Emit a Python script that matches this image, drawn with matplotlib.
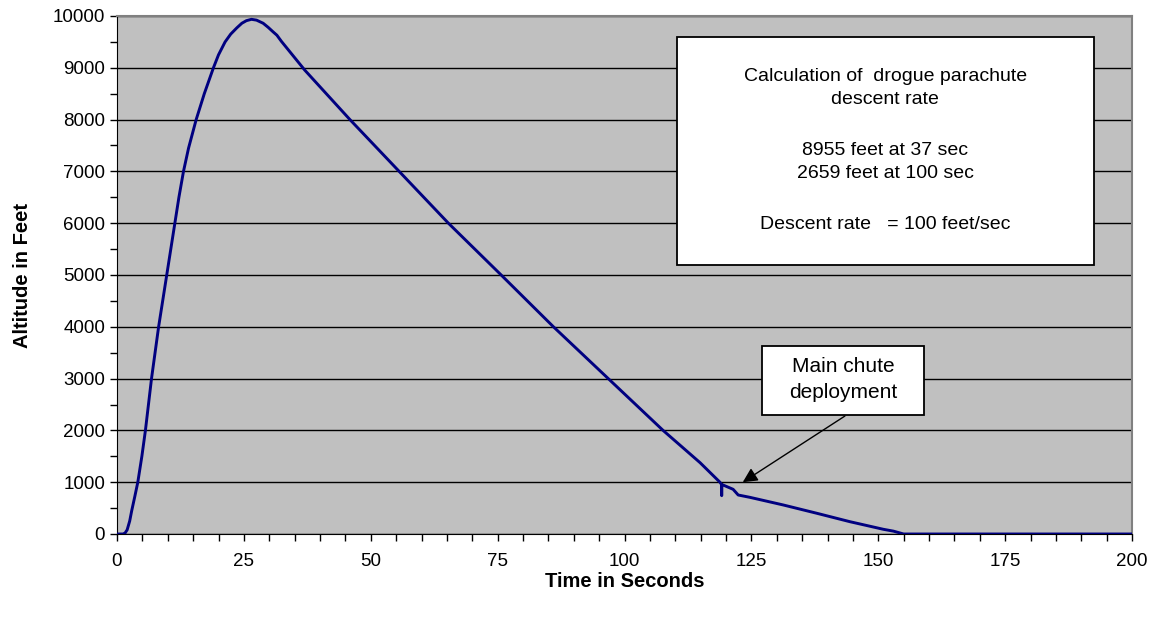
import matplotlib.pyplot as plt
from matplotlib.patches import Rectangle
from matplotlib.ticker import MultipleLocator

# flight data
time_s = [0, 1.2, 1.6, 2.0, 2.5, 2.9, 3.5, 4.1, 4.9, 5.6, 6.2, 6.8, 7.5, 8.2, 9.0,
          9.8, 10.6, 11.4, 12.2, 13.1, 14.1, 15.6, 17.2, 19.0, 20.0, 21.3, 22.4,
          23.6, 24.6, 25.5, 26.5, 27.5, 28.8, 29.8, 30.8, 31.5, 32.4, 37.0,
          45.9, 55.6, 65.3, 75.7, 86.0, 96.8, 107.6, 114.9,
          118.8, 119.1, 119.15, 119.2, 121.4, 122.4, 124.7, 131.3, 137.9, 144.4,
          151.0, 153.0, 155.0, 200.0]
altitude_ft = [0, 0, 20, 80, 250, 450, 720, 1000, 1500, 2000, 2500, 3000, 3500,
               4000, 4500, 5000, 5500, 6000, 6500, 7000, 7450, 8000, 8500, 9000,
               9250, 9500, 9650, 9770, 9860, 9910, 9936, 9920, 9860, 9780, 9690,
               9630, 9510, 8955, 8000, 7000, 6000, 5000,
               4000, 3000, 2000, 1376, 1000, 960, 740, 955, 863, 753, 708, 560,
               400, 238, 91, 55, 0, 0]

box_lines = ["Calculation of  drogue parachute", "descent rate", "",
             "8955 feet at 37 sec", "2659 feet at 100 sec", "",
             "Descent rate   = 100 feet/sec"]

plt.rcParams['font.family'] = ['Liberation Sans', 'DejaVu Sans']

fig = plt.figure(figsize=(11.59, 6.18), dpi=100)
ax = fig.add_axes([117/1159, 84/618, 1015/1159, 518/618])
ax.set_facecolor('#c0c0c0')

ax.plot(time_s, altitude_ft, color='#000080', lw=2.1, zorder=3)

ax.set_xlim(0, 200)
ax.set_ylim(0, 10000)
ax.xaxis.set_major_locator(MultipleLocator(25))
ax.xaxis.set_minor_locator(MultipleLocator(5))
ax.yaxis.set_major_locator(MultipleLocator(1000))
ax.yaxis.set_minor_locator(MultipleLocator(500))
ax.tick_params(which='both', direction='out', length=5, width=1, colors='black',
               labelsize=13.5)
ax.tick_params(axis='x', pad=9)
ax.grid(axis='y', which='major', color='black', lw=1)
ax.set_axisbelow(True)

for s in ['top', 'right']:
    ax.spines[s].set_color('#808080')
    ax.spines[s].set_linewidth(1.5)
for s in ['left', 'bottom']:
    ax.spines[s].set_color('black')

ax.set_xlabel('Time in Seconds', fontsize=14.5, fontweight='bold', labelpad=1)
ax.set_ylabel('Altitude in Feet', fontsize=14.5, fontweight='bold', labelpad=15)

# info box
ax.add_patch(Rectangle((0.552, 0.519), 0.4106, 0.4405, transform=ax.transAxes,
                       facecolor='white', edgecolor='black', lw=1.3, zorder=4))
line_y = [0.883, 0.838, None, 0.741, 0.695, None, 0.597]
for txt, yy in zip(box_lines, line_y):
    if yy is not None:
        ax.text(0.757, yy, txt, transform=ax.transAxes, ha='center', va='center',
                fontsize=14, zorder=5)

# deployment callout
ax.annotate('', xy=(123.3, 1000), xycoords='data',
            xytext=(0.7172, 0.2278), textcoords='axes fraction',
            arrowprops=dict(arrowstyle='-|>', color='black', lw=1,
                            mutation_scale=22, shrinkA=0, shrinkB=0), zorder=5)
ax.add_patch(Rectangle((0.6355, 0.2297), 0.1596, 0.1333, transform=ax.transAxes,
                       facecolor='white', edgecolor='black', lw=1.3, zorder=6))
ax.text(0.7153, 0.323, 'Main chute', transform=ax.transAxes, ha='center',
        va='center', fontsize=15, zorder=7)
ax.text(0.7153, 0.273, 'deployment', transform=ax.transAxes, ha='center',
        va='center', fontsize=15, zorder=7)

fig.savefig('out.png', dpi=100)
